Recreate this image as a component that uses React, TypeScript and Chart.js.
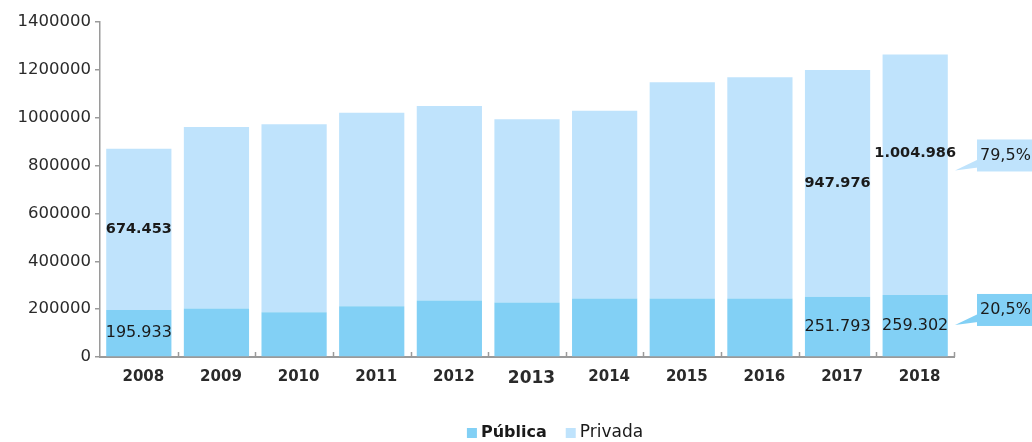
import React, { useEffect, useRef } from "react";
import { Chart, registerables } from "chart.js";

Chart.register(...registerables);

const years = ["2008", "2009", "2010", "2011", "2012", "2013", "2014", "2015", "2016", "2017", "2018"];
const publica = [195933, 203000, 187000, 212000, 236000, 228000, 244000, 245000, 245000, 251793, 259302];
const privada = [674453, 758000, 786000, 809000, 813000, 766000, 785000, 903000, 924000, 947976, 1004986];
const yTickValues = [0, 200000, 400000, 600000, 800000, 1000000, 1200000, 1400000];
const labeledYears = ["2008", "2017", "2018"];
const seriesNames = ["Pública", "Privada"];

const FONT = "'DejaVu Sans', Verdana, sans-serif";
const COLORS = ["#82d0f5", "#bfe3fc"];

const fmt = (v: number) => String(Math.round(v)).replace(/\B(?=(\d{3})+(?!\d))/g, ".");
const pct = (v: number) => v.toFixed(1).replace(".", ",") + "%";

const overlayPlugin = {
  id: "overlay",
  afterDatasetsDraw(chart: any) {
    const ctx = chart.ctx;
    const area = chart.chartArea;
    const xs = chart.scales.x;
    const n = years.length;
    const cw = (xs.right - xs.left) / n;

    // inward tick marks on x axis at category boundaries
    ctx.save();
    ctx.strokeStyle = "#9a9a9a";
    ctx.lineWidth = 1.5;
    for (let i = 1; i <= n; i++) {
      const x = Math.round(xs.left + cw * i) + 0.5;
      ctx.beginPath();
      ctx.moveTo(x, area.bottom);
      ctx.lineTo(x, area.bottom - 5);
      ctx.stroke();
    }
    ctx.restore();

    const m0 = chart.getDatasetMeta(0).data;
    const m1 = chart.getDatasetMeta(1).data;

    // data labels
    ctx.save();
    ctx.textAlign = "center";
    ctx.textBaseline = "middle";
    ctx.fillStyle = "#1a1a1a";
    labeledYears.forEach((yr) => {
      const i = years.indexOf(yr);
      if (i < 0) return;
      const b0 = m0[i];
      const b1 = m1[i];
      ctx.font = `normal 16px ${FONT}`;
      ctx.fillText(fmt(publica[i]), b0.x, (b0.y + b0.base) / 2);
      const frac = i === n - 1 ? 0.59 : 0.5;
      ctx.font = `bold 14.5px ${FONT}`;
      ctx.fillText(fmt(privada[i]), b1.x, b1.base + (b1.y - b1.base) * frac);
    });
    ctx.restore();

    // callouts for last year
    const li = n - 1;
    const total = publica[li] + privada[li];
    const callouts = [
      { text: pct((privada[li] / total) * 100), color: COLORS[1], bar: m1[li], frac: 0.58 },
      { text: pct((publica[li] / total) * 100), color: COLORS[0], bar: m0[li], frac: 0.755 },
    ];
    ctx.save();
    callouts.forEach((c) => {
      const cy = c.bar.base + (c.bar.y - c.bar.base) * c.frac;
      const left = area.right + 23;
      const h = 32;
      ctx.fillStyle = c.color;
      ctx.fillRect(left, cy - h / 2, chart.width - left, h);
      ctx.beginPath();
      ctx.moveTo(left + 1, cy + 4);
      ctx.lineTo(left + 1, cy + 12);
      ctx.lineTo(area.right + 1, cy + 15);
      ctx.closePath();
      ctx.fill();
      ctx.fillStyle = "#1a1a1a";
      ctx.font = `normal 16px ${FONT}`;
      ctx.textAlign = "left";
      ctx.textBaseline = "middle";
      ctx.fillText(c.text, left + 3, cy);
    });
    ctx.restore();

    // legend
    ctx.save();
    const items = seriesNames.map((name, k) => ({
      name,
      color: COLORS[k],
      font: k === 0 ? `bold 16px ${FONT}` : `normal 17px ${FONT}`,
    }));
    const box = 10;
    const gapIn = 4;
    const gapOut = 19;
    let totalW = 0;
    items.forEach((it, k) => {
      ctx.font = it.font;
      totalW += box + gapIn + ctx.measureText(it.name).width + (k < items.length - 1 ? gapOut : 0);
    });
    const centerX = (area.left + area.right) / 2 + 28;
    let x = centerX - totalW / 2;
    const ly = 433;
    items.forEach((it) => {
      ctx.fillStyle = it.color;
      ctx.fillRect(x, ly - 5, box, box);
      x += box + gapIn;
      ctx.font = it.font;
      ctx.fillStyle = "#1a1a1a";
      ctx.textAlign = "left";
      ctx.textBaseline = "middle";
      ctx.fillText(it.name, x, ly);
      x += ctx.measureText(it.name).width + gapOut;
    });
    ctx.restore();
  },
};

export default function App() {
  const ref = useRef<HTMLCanvasElement | null>(null);

  useEffect(() => {
    document.body.style.margin = "0";
    if (!ref.current) return;
    const chart = new Chart(ref.current, {
      type: "bar",
      data: {
        labels: years,
        datasets: [
          {
            label: seriesNames[0],
            data: publica,
            backgroundColor: COLORS[0],
            borderWidth: 0,
            categoryPercentage: 1,
            barPercentage: 0.84,
          },
          {
            label: seriesNames[1],
            data: privada,
            backgroundColor: COLORS[1],
            borderWidth: 0,
            categoryPercentage: 1,
            barPercentage: 0.84,
          },
        ],
      },
      options: {
        animation: false,
        responsive: true,
        maintainAspectRatio: false,
        layout: { padding: { top: 22, right: 78, bottom: 50, left: 0 } },
        plugins: {
          legend: { display: false },
          tooltip: { enabled: false },
        },
        scales: {
          x: {
            stacked: true,
            afterFit: (s: any) => {
              s.height = 35;
            },
            grid: { drawOnChartArea: false, drawTicks: false, display: true },
            border: { display: true, color: "#9a9a9a", width: 2 },
            ticks: {
              color: "#2a2a2a",
              padding: 11,
              labelOffset: 4.5,
              font: (c: any) =>
                c.index === 5
                  ? { family: FONT, size: 17, weight: "bold" }
                  : { family: FONT, size: 15, weight: "bold" },
            },
          },
          y: {
            stacked: true,
            min: 0,
            max: yTickValues[yTickValues.length - 1],
            afterFit: (s: any) => {
              s.width = 100;
            },
            afterBuildTicks: (s: any) => {
              s.ticks = yTickValues.map((v) => ({ value: v }));
            },
            grid: { drawOnChartArea: false, drawTicks: true, tickLength: 5, color: "#9a9a9a", lineWidth: 1.5 },
            border: { display: true, color: "#9a9a9a", width: 1.5 },
            ticks: {
              color: "#2a2a2a",
              padding: 4,
              font: { family: FONT, size: 16.5 },
              callback: (v: any) => String(v),
            },
          },
        },
      },
      plugins: [overlayPlugin],
    });
    return () => chart.destroy();
  }, []);

  return (
    <div style={{ width: 1032, height: 442, position: "relative" }}>
      <canvas ref={ref} />
    </div>
  );
}
